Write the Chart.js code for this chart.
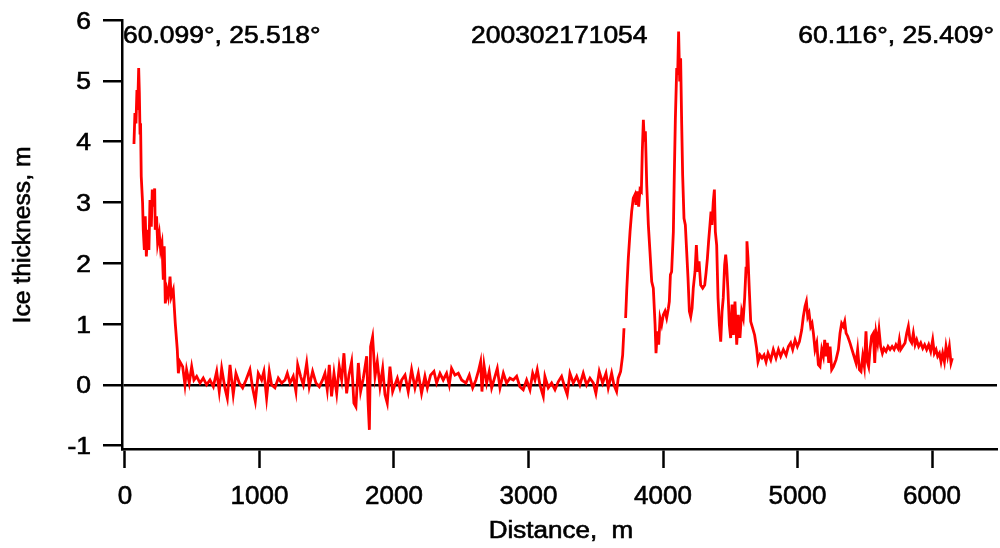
<!DOCTYPE html>
<html>
<head>
<meta charset="utf-8">
<script src="https://cdn.jsdelivr.net/npm/chart.js@4/dist/chart.umd.min.js"></script>
<style>
  html, body { margin: 0; padding: 0; background: #fff; }
  canvas { display: block; }
</style>
</head>
<body>
<canvas id="profile" width="1000" height="548"></canvas>
<script>
// distance along the track (m) and ice thickness (m)
const distance = [
  67, 74, 82, 89, 94, 102, 107, 112, 116, 121,
  131, 136, 144, 151, 159, 169, 178, 186, 196, 203,
  211, 221, 225, 235, 243, 255, 265, 275, 285, 292,
  300, 312, 322, 335, 344, 359, 374, 389,
  397, 409, 429, 446, 458, 478, 496, 513, 533, 558,
  582, 607, 632, 657, 682, 701, 719, 743, 761, 781,
  805, 825, 850, 875, 900, 929, 949, 969, 991, 1016,
  1033, 1053, 1073, 1090, 1115, 1140, 1165, 1190, 1207, 1227,
  1251, 1271, 1284, 1306, 1326, 1351, 1370, 1395, 1420, 1445,
  1469, 1487, 1504, 1519, 1536, 1554, 1574, 1593, 1611, 1628,
  1648, 1665, 1685, 1702, 1717, 1735, 1752, 1772, 1797, 1807,
  1817, 1826, 1841, 1859, 1876, 1896, 1916, 1933, 1950, 1970,
  1990, 2007, 2025, 2044,
  2057, 2082, 2106, 2131, 2156, 2181, 2205, 2230, 2248, 2272,
  2297, 2317, 2342, 2366, 2391, 2411, 2428, 2453, 2478, 2503,
  2535, 2560, 2585, 2609, 2627, 2644, 2654, 2669, 2689, 2708,
  2726, 2751, 2768, 2788, 2813, 2837, 2862, 2887, 2912, 2936,
  2961, 2986, 3011, 3031, 3048, 3065, 3085, 3110, 3122, 3147,
  3172, 3197, 3221, 3246, 3271, 3288, 3308, 3333, 3358, 3382,
  3407, 3432, 3457, 3482, 3501, 3526, 3551, 3576, 3593, 3618,
  3635, 3655, 3667,
  3685, 3700, 3710, 3716, 3722, 3730, 3742, 3755, 3767, 3779,
  3792, 3799, 3809, 3819, 3829, 3839, 3846, 3854, 3861, 3869,
  3879, 3891, 3903, 3916, 3928, 3941, 3948, 3958, 3968, 3978,
  3990, 4002, 4015, 4027, 4040, 4047, 4055, 4064, 4077, 4084,
  4092, 4102, 4109, 4116, 4124, 4131, 4139, 4146, 4156, 4166,
  4176, 4186, 4196, 4206, 4216, 4225, 4238, 4248, 4258, 4268,
  4280, 4295, 4310, 4320, 4330, 4339, 4349, 4357, 4364, 4374,
  4382, 4389, 4399, 4409, 4419, 4429, 4439, 4448, 4458, 4466,
  4473, 4483, 4493, 4503, 4513, 4523, 4535, 4548, 4560, 4572,
  4585, 4597, 4607, 4617, 4624, 4632, 4642, 4652, 4667, 4681,
  4696, 4706, 4721, 4736, 4751, 4766, 4781,
  4801, 4820, 4840, 4858, 4875, 4895, 4915, 4932, 4949, 4964,
  4982, 4999, 5014, 5031, 5043, 5056, 5066, 5076, 5086, 5098,
  5108, 5118, 5130, 5143, 5155, 5167, 5180, 5192, 5202, 5212,
  5222, 5232, 5242, 5254, 5267, 5286, 5304, 5316, 5328, 5341,
  5351, 5361, 5373, 5390, 5405, 5420, 5435, 5447, 5460, 5472,
  5485, 5497, 5509, 5519, 5529, 5539, 5551, 5564, 5574, 5584,
  5596, 5606, 5618, 5631, 5643, 5658, 5673, 5688, 5703, 5718,
  5732, 5747, 5757, 5767, 5782, 5799, 5812, 5824, 5836, 5849,
  5861, 5874, 5886, 5901, 5916, 5931, 5945, 5960, 5975, 5990,
  6005, 6017, 6030, 6042, 6055, 6067, 6079, 6092, 6104, 6116,
  6129, 6141, 6151
];

const thickness = [
  3.96, 4.47, 4.30, 4.85, 4.52, 5.21, 4.80, 4.14, 4.30, 3.43,
  2.99, 2.55, 2.22, 2.77, 2.11, 2.55, 2.22, 3.04, 2.60, 3.21,
  2.93, 3.23, 2.55, 2.77, 2.33, 2.49, 2.22, 2.33, 1.73, 2.28,
  1.34, 1.56, 1.45, 1.78, 1.45, 1.56, 1.01, 0.58,
  0.19, 0.38, 0.30, 0.00, 0.25, 0.03, 0.30, 0.08, 0.14, 0.03,
  0.11, 0.00, 0.08, -0.03, 0.22, -0.11, 0.27, -0.05, -0.22, 0.33,
  -0.16, 0.19, 0.03, -0.05, 0.08, 0.25, -0.05, -0.27, 0.19, 0.08,
  0.22, -0.22, 0.22, 0.00, -0.05, 0.11, 0.03, 0.08, 0.19, 0.03,
  0.14, -0.11, 0.33, 0.14, 0.00, 0.36, -0.03, 0.22, 0.03, -0.03,
  0.08, 0.19, -0.08, 0.33, -0.19, 0.19, -0.14, 0.30, 0.08, 0.52,
  -0.14, 0.16, 0.38, -0.30, -0.36, 0.36, -0.11, 0.11, 0.47, -0.27,
  -0.74, 0.63, 0.79, 0.14, 0.38, -0.03, 0.27, -0.16, -0.30, 0.30,
  -0.11, 0.00, 0.11, -0.05,
  0.08, 0.16, -0.11, 0.25, -0.05, 0.19, -0.14, 0.14, -0.05, 0.16,
  0.22, 0.03, 0.19, 0.08, 0.19, 0.00, 0.27, 0.16, 0.19, 0.08,
  0.03, 0.16, -0.05, 0.08, 0.22, 0.38, -0.11, 0.33, 0.03, 0.22,
  -0.05, 0.14, 0.27, -0.05, 0.19, 0.03, 0.11, 0.08, 0.14, -0.03,
  -0.08, 0.08, -0.08, 0.19, 0.08, 0.25, 0.00, -0.19, 0.14, -0.05,
  0.03, -0.08, 0.05, 0.14, -0.05, -0.16, 0.19, 0.03, 0.14, 0.00,
  0.19, 0.00, 0.11, 0.03, -0.14, 0.22, 0.03, 0.19, -0.05, 0.19,
  0.00, -0.11, 0.11,
  0.22, 0.49, 0.93, null, 1.10, 1.54, 2.08, 2.52, 2.85, 3.07,
  3.13, 2.96, 3.18, 2.93, 3.21, 3.18, 3.84, 4.36, 4.00, 4.17,
  3.29, 2.63, 2.19, 1.70, 1.59, 0.99, 0.52, 0.88, 0.66, 1.10,
  0.99, 1.15, 1.21, 1.10, 1.26, 1.37, 1.81, 1.86, 2.52, 3.45,
  4.39, 5.21, 5.10, 5.81, 4.99, 5.37, 4.28, 3.45, 2.74, 2.63,
  2.19, 1.75, 1.21, 1.12, 1.26, 1.59, 1.86, 2.30, 1.86, 2.03,
  1.64, 1.59, 1.64, 1.84, 2.08, 2.36, 2.63, 2.85, 2.63, 3.02,
  3.21, 2.52, 2.30, 1.43, 0.99, 0.71, 1.21, 1.43, 1.97, 2.14,
  1.97, 1.54, 0.99, 0.77, 1.32, 0.82, 1.37, 0.66, 1.15, 0.77,
  1.21, 1.10, 1.43, 1.92, 2.36, 2.08, 1.54, 1.04, 0.93, 0.82,
  0.60, 0.38, 0.49, 0.44, 0.49, 0.38, 0.52,
  0.41, 0.58, 0.44, 0.58, 0.47, 0.58, 0.49, 0.63, 0.69, 0.58,
  0.74, 0.63, 0.71, 0.90, 1.12, 1.29, 1.37, 1.12, 1.18, 0.96,
  1.01, 0.85, 0.58, 0.69, 0.33, 0.30, 0.58, 0.47, 0.74, 0.47,
  0.69, 0.36, 0.63, 0.25, 0.30, 0.41, 0.58, 0.85, 1.01, 0.96,
  1.04, 0.85, 0.80, 0.69, 0.58, 0.47, 0.36, 0.58, 0.25, 0.22,
  0.47, 0.30, 0.88, 0.38, 0.30, 0.58, 0.80, 0.85, 0.36, 0.85,
  0.69, 0.90, 0.63, 0.52, 0.60, 0.55, 0.63, 0.58, 0.63, 0.58,
  0.66, 0.60, 0.74, 0.58, 0.63, 0.69, 0.85, 0.96, 0.74, 0.69,
  0.85, 0.66, 0.74, 0.63, 0.69, 0.60, 0.66, 0.58, 0.66, 0.55,
  0.74, 0.52, 0.58, 0.47, 0.52, 0.38, 0.52, 0.38, 0.63, 0.47,
  0.63, 0.36, 0.44
];

const xTicks = [0, 1000, 2000, 3000, 4000, 5000, 6000];
const yTicks = [-1, 0, 1, 2, 3, 4, 5, 6];

const startLabel = '60.099°, 25.518°';
const endLabel = '60.116°, 25.409°';
const trackId = '200302171054';
const xTitle = 'Distance,  m';
const yTitle = 'Ice thickness, m';

const FONT = '"Liberation Sans", Arial, sans-serif';

// the original export is stretched sideways, so text gets a horizontal scale
function stretchText(ctx, text, x, y, size, stretch, align, angle) {
  ctx.save();
  ctx.translate(x, y);
  if (angle) ctx.rotate(angle);
  ctx.scale(stretch, 1);
  ctx.font = size + 'px ' + FONT;
  ctx.textAlign = align;
  ctx.textBaseline = 'alphabetic';
  ctx.fillStyle = '#000';
  ctx.strokeStyle = '#000';
  ctx.lineWidth = 0.6;
  ctx.fillText(text, 0, 0);
  ctx.strokeText(text, 0, 0);
  ctx.restore();
}

const textPlugin = {
  id: 'profileText',
  afterDraw(chart) {
    const ctx = chart.ctx;
    const xs = chart.scales.x;
    const ys = chart.scales.y;

    yTicks.forEach(v => stretchText(ctx, String(v), 91, ys.getPixelForValue(v) + 8.5, 23, 1.15, 'right'));
    xTicks.forEach(v => stretchText(ctx, String(v), xs.getPixelForValue(v), 504, 26, 1, 'center'));

    stretchText(ctx, startLabel, 123, 43, 23, 1.15, 'left');
    stretchText(ctx, trackId, 471, 43, 23, 1.15, 'left');
    stretchText(ctx, endLabel, 994, 43, 23, 1.15, 'right');

    stretchText(ctx, xTitle, 561, 538, 23, 1.13, 'center');
    stretchText(ctx, yTitle, 30, 235, 23.5, 1.05, 'center', -Math.PI / 2);
  }
};

const points = distance.map((d, i) => ({ x: d, y: thickness[i] }));

new Chart(document.getElementById('profile'), {
  type: 'line',
  data: {
    datasets: [{
      data: points,
      borderColor: '#ff0000',
      borderWidth: 2.8,
      pointRadius: 0,
      tension: 0,
      spanGaps: false
    }]
  },
  options: {
    responsive: false,
    animation: false,
    layout: { padding: { left: 0, right: 3, top: 20, bottom: 0 } },
    plugins: {
      legend: { display: false },
      tooltip: { enabled: false }
    },
    scales: {
      x: {
        type: 'linear',
        min: -22,
        max: 6483,
        afterBuildTicks: scale => { scale.ticks = xTicks.map(v => ({ value: v })); },
        afterFit: scale => { scale.height = 99; },
        ticks: { display: false },
        grid: {
          drawOnChartArea: false,
          tickLength: 19,
          tickWidth: 2.5,
          tickColor: '#000'
        },
        border: { color: '#000', width: 2.5 }
      },
      y: {
        type: 'linear',
        min: -1.055,
        max: 6,
        afterBuildTicks: scale => { scale.ticks = yTicks.map(v => ({ value: v })); },
        afterFit: scale => { scale.width = 122; },
        ticks: { display: false },
        grid: {
          // only the zero line is drawn across the plot
          color: c => (c.tick && c.tick.value === 0) ? '#000' : 'rgba(0,0,0,0)',
          lineWidth: 2.5,
          tickLength: 19,
          tickWidth: 2.5,
          tickColor: '#000'
        },
        border: { color: '#000', width: 2.5 }
      }
    }
  },
  plugins: [textPlugin]
});
</script>
</body>
</html>
